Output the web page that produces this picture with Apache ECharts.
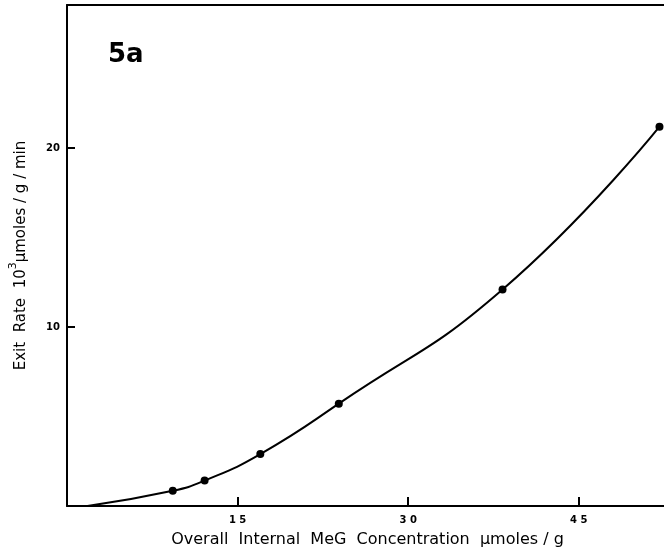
<!DOCTYPE html>
<html>
<head>
<meta charset="utf-8">
<script src="https://cdn.jsdelivr.net/npm/echarts@6/dist/echarts.min.js"></script>
<style>html,body{margin:0;padding:0;background:#fff;}#c{width:664px;height:554px;}</style>
</head>
<body>
<div id="c"></div>
<script>
// Curve (start point has no marker) and measured points
var curveX = [1.8, 9.3, 12.1, 17.0, 23.9, 38.3, 52.1];
var curveY = [0.0, 0.85, 1.42, 2.9, 5.72, 12.1, 21.2];
var pointX = [9.3, 12.1, 17.0, 23.9, 38.3, 52.1];
var pointY = [0.85, 1.42, 2.9, 5.72, 12.1, 21.2];
var xTickLabels = [15, 30, 45];
var yTickLabels = [10, 20];

var curveData = curveX.map(function (x, i) { return [x, curveY[i]]; });
var pointData = pointX.map(function (x, i) { return [x, pointY[i]]; });

var FONT = 'DejaVu Sans';
var chart = echarts.init(document.getElementById('c'), null, {renderer: 'canvas'});
chart.setOption({
  animation: false,
  backgroundColor: '#fff',
  grid: {left: 67, right: -4, top: 5, bottom: 48, containLabel: false, outerBoundsMode: 'none'},
  graphic: [{
    type: 'text', left: 108, top: 42,
    style: {text: '5a', font: 'bold 26px ' + FONT, fill: '#000'}
  }],
  xAxis: [{
    type: 'value', min: 0, max: 52.85, interval: 15,
    axisLine: {lineStyle: {color: '#000', width: 2}},
    axisTick: {inside: true, length: 9, lineStyle: {color: '#000', width: 2}},
    splitLine: {show: false},
    axisLabel: {
      color: '#000', fontFamily: FONT, fontSize: 10, fontWeight: 'bold', margin: 9,
      formatter: function (v) { return xTickLabels.indexOf(v) >= 0 ? String(v).split('').join(' ') : ''; }
    },
    name: 'Overall  Internal  MeG  Concentration  µmoles / g',
    nameLocation: 'middle', nameGap: 26,
    nameTextStyle: {color: '#000', fontFamily: FONT, fontSize: 16}
  }, {
    type: 'value', position: 'top', min: 0, max: 52.85,
    axisLine: {show: true, lineStyle: {color: '#000', width: 2}},
    axisTick: {show: false}, axisLabel: {show: false}, splitLine: {show: false}
  }],
  yAxis: {
    type: 'value', min: 0, max: 28, interval: 10,
    axisLine: {show: true, lineStyle: {color: '#000', width: 2}},
    axisTick: {inside: true, length: 8, lineStyle: {color: '#000', width: 2}},
    splitLine: {show: false},
    axisLabel: {
      color: '#000', fontFamily: FONT, fontSize: 10, fontWeight: 'bold', margin: 7,
      formatter: function (v) { return yTickLabels.indexOf(v) >= 0 ? String(v) : ''; }
    },
    name: '{a|Exit  Rate  10}{s|3}{a|µmoles / g / min}',
    nameLocation: 'middle', nameGap: 38, nameRotate: 90,
    nameTextStyle: {
      color: '#000', fontFamily: FONT,
      rich: {
        a: {fontSize: 15, fontFamily: FONT, color: '#000', verticalAlign: 'bottom'},
        s: {fontSize: 11, fontFamily: FONT, color: '#000', verticalAlign: 'top', padding: [0, 0, 10, 0]}
      }
    }
  },
  series: [{
    type: 'line', data: curveData, smooth: 0.5, showSymbol: false,
    lineStyle: {color: '#000', width: 2}, silent: true
  }, {
    type: 'scatter', data: pointData, symbol: 'circle', symbolSize: 8,
    itemStyle: {color: '#000', opacity: 1}, silent: true
  }]
});
</script>
</body>
</html>
